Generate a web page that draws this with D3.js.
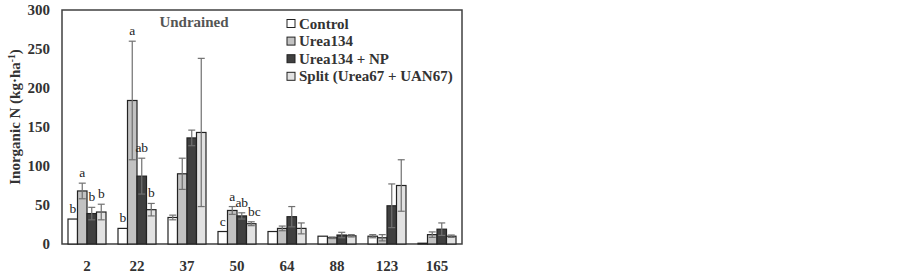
<!DOCTYPE html>
<html><head><meta charset="utf-8">
<script src="https://cdn.jsdelivr.net/npm/d3@7"></script>
<style>body{margin:0;background:#fff}</style>
</head><body>
<svg id="c" width="902" height="277"></svg>
<script>
const categories = ["2","22","37","50","64","88","123","165"];
const seriesNames = ["Control","Urea134","Urea134 + NP","Split (Urea67 + UAN67)"];
const control = [32, 20, 34, 16, 16, 10, 10, 1];
const urea134 = [68, 184, 90, 43, 20, 8, 8, 12];
const ureaNP  = [39, 87, 136, 36, 35, 11.5, 49, 19];
const split   = [41, 44, 143, 26, 20, 10.5, 75, 10];
const errControl = [0, 0, 3, 0, 0, 0, 2, 0];
const errUrea134 = [10, 76, 20, 5, 3, 1, 4, 3.5];
const errUreaNP  = [8, 23, 10, 4, 13, 3.5, 28, 8];
const errSplit   = [10, 8, 95, 2.5, 7, 1.5, 33, 1.5];
const letters = [["b","a","b","b"],["b","a","ab","b"],["","","",""],["c","a","ab","bc"],["","","",""],["","","",""],["","","",""],["","","",""]];
const yTicks = [0,50,100,150,200,250,300];
const colors = ["#ffffff","#c2c2c2","#404040","#e2e2e2"];

const values = [control, urea134, ureaNP, split];
const errs = [errControl, errUrea134, errUreaNP, errSplit];

const svg = d3.select("#c");
const L = 62, R = 462, T = 10, B = 244;
const font = "'Liberation Serif','Times New Roman',serif";

const x = d3.scaleBand().domain(categories).range([L, R]).paddingInner(0.24).paddingOuter(0.12);
const xs = d3.scaleBand().domain(d3.range(4)).range([0, x.bandwidth()]);
const y = d3.scaleLinear().domain([0, 300]).range([B, T]);

// frame
svg.append("rect").attr("x", L).attr("y", T).attr("width", R - L).attr("height", B - T)
  .attr("fill", "none").attr("stroke", "#404040").attr("stroke-width", 1.5);

// bars
values.forEach((vals, s) => {
  const g = svg.append("g");
  g.selectAll("rect").data(categories).join("rect")
    .attr("x", (c) => x(c) + xs(s))
    .attr("y", (c, i) => y(vals[i]))
    .attr("width", xs.bandwidth())
    .attr("height", (c, i) => B - y(vals[i]))
    .attr("fill", colors[s]).attr("stroke", "#222").attr("stroke-width", 1.2);
});

// error bars
values.forEach((vals, s) => {
  const g = svg.append("g").attr("stroke", "#707070").attr("stroke-width", 1.2);
  categories.forEach((c, i) => {
    const e = errs[s][i];
    if (!e) return;
    const cx = x(c) + xs(s) + xs.bandwidth() / 2;
    const y1 = y(vals[i] + e), y0 = y(Math.max(0, vals[i] - e));
    g.append("line").attr("x1", cx).attr("x2", cx).attr("y1", y1).attr("y2", y0);
    g.append("line").attr("x1", cx - 3.5).attr("x2", cx + 3.5).attr("y1", y1).attr("y2", y1);
    g.append("line").attr("x1", cx - 3.5).attr("x2", cx + 3.5).attr("y1", y0).attr("y2", y0);
  });
});

// letters
values.forEach((vals, s) => {
  categories.forEach((c, i) => {
    const t = letters[i][s];
    if (!t) return;
    const cx = x(c) + xs(s) + xs.bandwidth() / 2 + (s === 3 && t.length > 1 ? 3 : 0);
    svg.append("text").attr("x", cx).attr("y", y(vals[i] + errs[s][i]) - 6)
      .attr("text-anchor", "middle").attr("font-family", font).attr("font-size", 13.5)
      .attr("fill", "#222").text(t);
  });
});

// y axis labels
const yAxis = d3.axisLeft(y).tickValues(yTicks).tickSize(0).tickPadding(12);
const ya = svg.append("g").attr("transform", `translate(${L},0)`).call(yAxis);
ya.select(".domain").remove();
ya.selectAll("text").attr("font-family", font).attr("font-size", 15).attr("font-weight", "bold").attr("fill", "#333");

// x axis labels
const xAxis = d3.axisBottom(x).tickSize(0).tickPadding(16);
const xa = svg.append("g").attr("transform", `translate(0,${B})`).call(xAxis);
xa.select(".domain").remove();
xa.selectAll("text").attr("font-family", font).attr("font-size", 15).attr("font-weight", "bold").attr("fill", "#333");

// y title
svg.append("text").attr("transform", `translate(20,${(T + B) / 2 - 10}) rotate(-90)`)
  .attr("text-anchor", "middle").attr("font-family", font).attr("font-size", 15).attr("font-weight", "bold").attr("fill", "#333")
  .html('Inorganic N (kg·ha<tspan dy="-5" font-size="9.5">-1</tspan><tspan dy="5">)</tspan>');

// panel title
svg.append("text").attr("x", 194).attr("y", 26.5).attr("text-anchor", "middle")
  .attr("font-family", font).attr("font-size", 15).attr("font-weight", "bold").attr("fill", "#555").text("Undrained");

// legend
const lg = svg.append("g");
seriesNames.forEach((n, i) => {
  const yy = 23.5 + i * 17.6;
  lg.append("rect").attr("x", 287).attr("y", yy - 4).attr("width", 8).attr("height", 8)
    .attr("fill", colors[i]).attr("stroke", "#222").attr("stroke-width", 1);
  lg.append("text").attr("x", 299).attr("y", yy + 5).attr("font-family", font).attr("font-size", 15)
    .attr("font-weight", "bold").attr("fill", "#333").text(n);
});
</script>
</body></html>
